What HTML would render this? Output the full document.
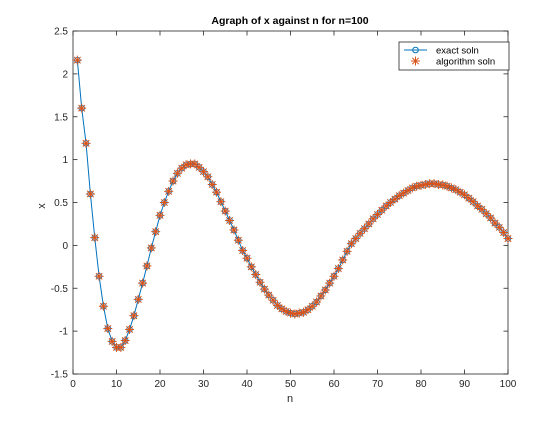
<!DOCTYPE html>
<html><head><meta charset="utf-8"><style>
body{margin:0;background:#fff;}
svg{font-family:"Liberation Sans",Arial,sans-serif;}
</style></head><body>
<svg id="chart" width="560" height="420" xmlns="http://www.w3.org/2000/svg">
<rect x="0" y="0" width="560" height="420" fill="#fff"/>
<g id="axes"></g>
<g id="series"></g>
<g id="legend">
<rect x="399" y="42" width="110" height="28" fill="#fff" stroke="#262626" stroke-width="0.8"/>
<line x1="404" y1="50" x2="427" y2="50" stroke="#0072BD"/>
<circle cx="415.5" cy="50" r="2.8" fill="none" stroke="#0072BD"/>
<text x="436" y="53.5" font-size="9.5" fill="#000">exact soln</text>
<g stroke="#D95319"><line x1="411" y1="61" x2="420" y2="61"/><line x1="415.5" y1="56.5" x2="415.5" y2="65.5"/><line x1="412.3" y1="57.8" x2="418.7" y2="64.2"/><line x1="412.3" y1="64.2" x2="418.7" y2="57.8"/></g>
<text x="436" y="64.5" font-size="9.5" fill="#000">algorithm soln</text>
</g>
<text x="290" y="24" text-anchor="middle" font-size="10.5" font-weight="bold" fill="#000">Agraph of x against n for n=100</text>
<text x="290" y="402" text-anchor="middle" font-size="11" fill="#262626">n</text>
<text x="45" y="206" text-anchor="middle" font-size="11" fill="#262626" transform="rotate(-90 45 206)">x</text>
</svg>
<script>
const nValues = [];
for (let i = 1; i <= 100; i++) nValues.push(i);
const xValues = [2.16,1.60,1.19,0.60,0.09,-0.36,-0.71,-0.97,-1.12,-1.19,
-1.19,-1.11,-0.98,-0.82,-0.63,-0.44,-0.24,-0.03,0.16,0.35,
0.50,0.63,0.75,0.84,0.90,0.94,0.95,0.95,0.91,0.86,
0.80,0.71,0.62,0.51,0.40,0.29,0.18,0.06,-0.06,-0.15,
-0.25,-0.34,-0.43,-0.51,-0.58,-0.64,-0.70,-0.74,-0.77,-0.79,
-0.80,-0.79,-0.78,-0.75,-0.71,-0.66,-0.59,-0.52,-0.44,-0.36,
-0.27,-0.17,-0.07,0.02,0.08,0.14,0.195,0.25,0.31,0.36,
0.41,0.46,0.50,0.54,0.58,0.61,0.64,0.67,0.69,0.70,
0.71,0.72,0.72,0.71,0.705,0.69,0.67,0.65,0.62,0.59,
0.55,0.51,0.46,0.42,0.37,0.32,0.26,0.21,0.15,0.08];
const xTicks = [0,10,20,30,40,50,60,70,80,90,100];
const yTicks = [-1.5,-1,-0.5,0,0.5,1,1.5,2,2.5];
const yTickLabels = ["-1.5","-1","-0.5","0","0.5","1","1.5","2","2.5"];

const L=73,R=508,T=31,B=374;
const sx = v => L + (v-0)/(100-0)*(R-L);
const sy = v => B - (v+1.5)/(2.5+1.5)*(B-T);
const NS="http://www.w3.org/2000/svg";
function mk(tag, attrs, parent){const e=document.createElementNS(NS,tag);for(const k in attrs)e.setAttribute(k,attrs[k]);parent.appendChild(e);return e;}
const axes=document.getElementById('axes');
const series=document.getElementById('series');
const box=mk('rect',{x:L,y:T,width:R-L,height:B-T,fill:'none',stroke:'#262626','stroke-width':0.8},axes);


xTicks.forEach(t=>{
  const x=sx(t);
  const g=mk('g',{},axes);
  
  
  mk('line',{x1:x,y1:B,x2:x,y2:B-4.5,stroke:'#262626','stroke-width':0.8},g);
  mk('line',{x1:x,y1:T,x2:x,y2:T+4.5,stroke:'#262626','stroke-width':0.8},g);
  const tx=mk('text',{x:x,y:B+13,'text-anchor':'middle','font-size':10,fill:'#262626'},g);
  tx.textContent=String(t);
});
yTicks.forEach((t,i)=>{
  const y=sy(t);
  const g=mk('g',{},axes);
  
  
  mk('line',{x1:L,y1:y,x2:L+4.5,y2:y,stroke:'#262626','stroke-width':0.8},g);
  mk('line',{x1:R,y1:y,x2:R-4.5,y2:y,stroke:'#262626','stroke-width':0.8},g);
  const tx=mk('text',{x:L-5,y:y+3.5,'text-anchor':'end','font-size':10,fill:'#262626'},g);
  tx.textContent=yTickLabels[i];
});
const pts=nValues.map((n,i)=>sx(n).toFixed(2)+','+sy(xValues[i]).toFixed(2)).join(' ');
const line=mk('polyline',{points:pts,fill:'none',stroke:'#0072BD','stroke-width':1},series);


nValues.forEach((n,i)=>{
  const c=mk('circle',{cx:sx(n),cy:sy(xValues[i]),r:2.8,fill:'none',stroke:'#0072BD','stroke-width':0.8},series);
  
  
});
nValues.forEach((n,i)=>{
  const x=sx(n),y=sy(xValues[i]);
  const g=mk('g',{stroke:'#D95319','stroke-width':1},series);
  
  
  mk('line',{x1:x-4.5,y1:y,x2:x+4.5,y2:y},g);
  mk('line',{x1:x,y1:y-4.5,x2:x,y2:y+4.5},g);
  mk('line',{x1:x-3.2,y1:y-3.2,x2:x+3.2,y2:y+3.2},g);
  mk('line',{x1:x-3.2,y1:y+3.2,x2:x+3.2,y2:y-3.2},g);
});
</script>
</body></html>
